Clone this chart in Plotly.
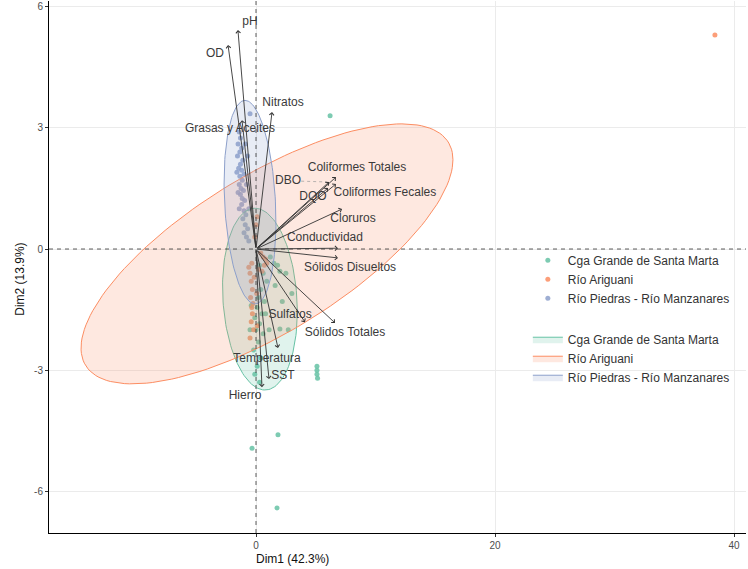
import numpy as np
import plotly.graph_objects as go

# ---------------- data ----------------
groups = ["Cga Grande de Santa Marta", "Río Ariguani", "Río Piedras - Río Manzanares"]
colors = ["#66C2A5", "#FC8D62", "#8DA0CB"]

green_x = [6.2, 5.1, 5.1, 5.1, 5.15, 1.84, -0.33, 1.76,
           0.3, 0.6, 0.9, 0.4, 0.2, 0.7, 0.1, 0.5, -0.1, 0.3, 0.0, 0.6, 0.2, -0.2, 0.4, 0.1,
           -0.1, 0.3, 1.8, 2.0, 1.6, 3.0, 2.7, 2.2, 1.2, 1.5, 2.5, -0.4, -0.5, 0.8, 1.1, 2.0]
green_y = [3.3, -2.9, -3.0, -3.1, -3.2, -4.6, -4.93, -6.41,
           -0.4, -0.6, -0.8, -1.0, -1.2, -1.3, -1.45, -1.6, -1.7, -1.85, -2.0, -2.1, -2.3, -2.5, -2.7, -2.9,
           -3.1, -3.3, -0.4, -0.55, -0.9, -1.1, -2.0, -1.3, -0.2, -0.35, -0.6, -1.4, -2.0, -1.6, -2.0, -1.98]

orange_x = [38.4, 0.1, 0.0, -0.1, 0.6, 0.8, 0.9, 0.7, -0.35, -0.5, -0.4, -0.3, -0.45, -0.25,
            -0.3, -0.4, -0.2, 0.2, -0.6, -0.15, 0.05, 0.4, -0.5, 0.1, -0.35, 0.5]
orange_y = [5.3, 0.8, 0.6, 0.3, -0.2, -0.25, -0.35, -0.4, -0.35, -0.6, -0.8, -1.0, -1.2, -1.35,
            -1.6, -1.8, -2.0, -0.5, -0.45, -0.7, -1.1, -0.1, -2.2, -1.9, -1.45, -0.55]

blue_x = [-0.5, -1.4, -1.3, -1.5, -1.2, -1.35, -1.55, -1.1, -1.3, -1.45, -1.2, -1.0, -1.35, -1.15,
          -1.4, -1.25, -1.05, -1.3, -1.15, -0.95, -1.2, -1.4, -1.0, -0.85, -1.1, -0.9, -0.7, -1.0,
          -0.8, -0.6, -0.9, -0.7, -0.8, -0.6, -1.6, -1.5]
blue_y = [3.35, 2.9, 2.75, 2.6, 2.5, 2.4, 2.3, 2.2, 2.1, 2.0, 1.95, 1.85, 1.8, 1.7,
          1.6, 1.5, 1.45, 1.35, 1.25, 1.2, 1.1, 1.0, 0.95, 0.85, 0.75, 0.6, 0.5, 0.4,
          0.3, 0.2, 2.6, 2.3, 1.6, 1.0, 1.9, 1.4]

# ellipse parameters: centre and two conjugate semi-diameters (data units)
ell_cx = [0.33, 0.92, -0.50]
ell_cy = [-1.24, -0.12, 1.16]
ell_a = [(-0.42, 2.25), (15.56, 2.33), (-0.42, 2.52)]
ell_b = [(3.10, 0.0), (0.0, -2.22), (2.13, 0.0)]

# variables (arrows)
var_names = ["pH", "OD", "Nitratos", "Grasas y Aceites", "Coliformes Totales", "DBO",
             "Coliformes Fecales", "DQO", "Cloruros", "Conductividad", "Sólidos Disueltos",
             "Sulfatos", "Sólidos Totales", "Temperatura", "SST", "Hierro"]
var_x = [-1.51, -2.34, 1.34, -1.17, 6.69, 6.11, 6.69, 6.03, 7.20, 6.86, 6.86, 4.10, 6.61, 1.84, 1.09, 0.50]
var_y = [5.42, 5.05, 3.39, 3.19, 1.78, 1.66, 1.61, 1.51, 0.99, 0.02, -0.22, -1.81, -1.83, -2.45, -3.22, -3.42]
lab_x = [-0.50, -3.43, 2.26, -2.18, 8.45, 2.68, 10.79, 4.77, 8.12, 5.77, 7.87, 2.85, 7.45, 0.92, 2.26, -0.92]
lab_y = [5.62, 4.83, 3.61, 2.97, 2.00, 1.68, 1.39, 1.29, 0.74, 0.27, -0.47, -1.63, -2.08, -2.72, -3.14, -3.64]

x_ticks = [0, 20, 40]
y_ticks = [-6, -3, 0, 3, 6]
x_title = "Dim1 (42.3%)"
y_title = "Dim2 (13.9%)"

FONT = "Liberation Sans, Arial, sans-serif"

# ---------------- figure ----------------
fig = go.Figure()
pts = [(green_x, green_y), (orange_x, orange_y), (blue_x, blue_y)]
for g, c, (px_, py_) in zip(groups, colors, pts):
    fig.add_trace(go.Scatter(x=px_, y=py_, mode="markers", name=g, legendgroup="pts",
                             marker=dict(color=c, size=5, opacity=0.85), showlegend=True))

t = np.linspace(0, 2 * np.pi, 150)
for i, (g, c) in enumerate(zip(groups, colors)):
    ex = ell_cx[i] + ell_a[i][0] * np.cos(t) + ell_b[i][0] * np.sin(t)
    ey = ell_cy[i] + ell_a[i][1] * np.cos(t) + ell_b[i][1] * np.sin(t)
    rgb = tuple(int(c[k:k + 2], 16) for k in (1, 3, 5))
    fig.add_trace(go.Scatter(x=ex, y=ey, mode="lines", fill="toself", name=g, legendgroup="ell",
                             line=dict(color=c, width=1),
                             fillcolor="rgba(%d,%d,%d,0.2)" % rgb, hoverinfo="skip"))

# DBO connector segment (label repelled)
i_dbo = var_names.index("DBO")
fig.add_trace(go.Scatter(x=[lab_x[i_dbo] + 1.1, var_x[i_dbo] - 0.2], y=[lab_y[i_dbo], var_y[i_dbo]],
                         mode="lines", line=dict(color="#999999", width=0.7, dash="dot"),
                         showlegend=False, hoverinfo="skip"))

fig.add_trace(go.Scatter(x=lab_x, y=lab_y, mode="text", text=var_names,
                         textfont=dict(family=FONT, size=12, color="#3a3a3a"),
                         showlegend=False, hoverinfo="skip"))

for vx, vy in zip(var_x, var_y):
    fig.add_annotation(x=vx, y=vy, ax=0, ay=0, xref="x", yref="y", axref="x", ayref="y",
                       text="", showarrow=True, arrowhead=4, arrowsize=1, arrowwidth=0.9,
                       arrowcolor="#333333")

fig.add_hline(y=0, line=dict(color="#333333", width=0.8, dash="4px,4px"))
fig.add_vline(x=0, line=dict(color="#333333", width=0.8, dash="4px,4px"))

# axis titles
fig.add_annotation(text=x_title, xref="paper", yref="paper", x=0.35, y=0, yanchor="top",
                   yshift=-17, showarrow=False, font=dict(size=12, color="#111111"))
fig.add_annotation(text=y_title, xref="paper", yref="paper", x=0, y=0.476, xanchor="center",
                   xshift=-29, textangle=-90, showarrow=False, font=dict(size=12, color="#111111"))

fig.update_layout(
    width=748, height=569,
    margin=dict(l=49, r=2, t=1, b=36),
    paper_bgcolor="white", plot_bgcolor="white",
    font=dict(family=FONT, size=12, color="#333333"),
    legend=dict(x=0.687, y=0.54, xanchor="left", yanchor="top", bgcolor="rgba(0,0,0,0)",
                tracegroupgap=22, traceorder="grouped", font=dict(size=12, color="#333333"),
                itemwidth=30),
    xaxis=dict(range=[-17.32, 41.0], tickvals=x_ticks, ticktext=[str(v) for v in x_ticks],
               showgrid=True, gridcolor="#EBEBEB", gridwidth=1, zeroline=False,
               showline=True, linecolor="black", linewidth=1, ticks="outside", ticklen=3,
               tickcolor="#333333", tickfont=dict(size=10, color="#4D4D4D")),
    yaxis=dict(range=[-7.03, 6.14], tickvals=y_ticks, ticktext=[str(v) for v in y_ticks],
               showgrid=True, gridcolor="#EBEBEB", gridwidth=1, zeroline=False,
               showline=True, linecolor="black", linewidth=1, ticks="outside", ticklen=3,
               tickcolor="#333333", tickfont=dict(size=10, color="#4D4D4D")),
)

fig.write_html("out.html", config={"displayModeBar": False},
               post_script="document.body.style.margin='0';")
